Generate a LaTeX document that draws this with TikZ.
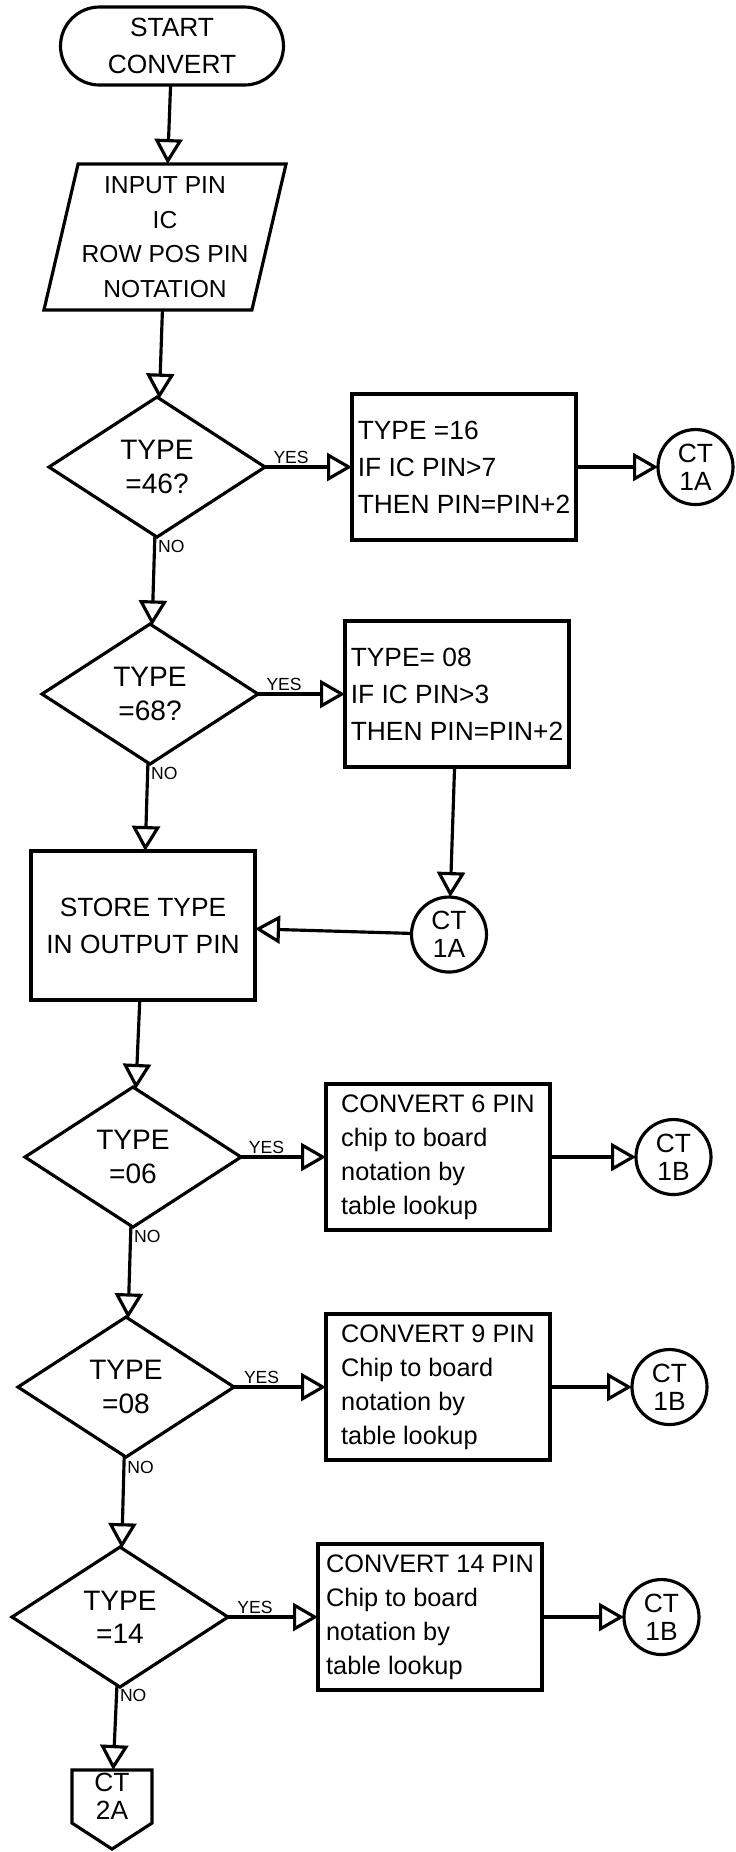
\documentclass[tikz,border=0pt]{standalone}
\usepackage{fontspec}
\setmainfont{Liberation Sans}
\usetikzlibrary{positioning,arrows.meta,shapes.geometric}

\begin{document}
\begin{tikzpicture}[
  node distance=8.7mm and 8.7mm,
  line width=0.9pt,
  every node/.style={font=\fontsize{7.5}{10.5}\selectfont, outer sep=0pt},
  termbox/.style={draw, rounded corners=3.9mm, minimum width=22.3mm,
                  minimum height=7.8mm, align=center, inner sep=1pt},
  iobox/.style={draw, trapezium, trapezium left angle=75,
                trapezium right angle=105, trapezium stretches=true,
                minimum width=22.6mm, minimum height=14.6mm, align=center,
                inner sep=1pt, font=\fontsize{7}{9.8}\selectfont},
  decbox/.style={draw, diamond, aspect=1.55, minimum width=21.6mm,
                 minimum height=14mm, inner sep=0pt, align=center,
                 font=\fontsize{8}{9.5}\selectfont},
  procbox/.style={draw, minimum width=22.4mm, minimum height=14.6mm,
                  align=left, inner sep=1pt},
  cvbox/.style={procbox, font=\fontsize{7.2}{9.7}\selectfont},
  conn/.style={draw, circle, minimum size=7.5mm, inner sep=0pt,
               align=center, font=\fontsize{7.5}{8}\selectfont},
  offpage/.style={minimum width=8mm, minimum height=5.3mm, inner sep=0pt,
                  align=center, font=\fontsize{7.5}{8}\selectfont},
  lbl/.style={font=\fontsize{5}{6}\selectfont, inner sep=1pt},
  arr/.style={-{Triangle[open, length=2.5mm, width=2.8mm]}, line width=0.9pt}]

\useasboundingbox (0,0) rectangle (73.5mm,-185.2mm);

%% Main column (drifts slightly left going down)
\node[termbox] (start) at (17.2mm,-4.6mm) {START\\CONVERT};
\node[iobox, below=7.9mm of start, xshift=-0.7mm] (input)
  {INPUT PIN\\IC\\ROW POS PIN\\NOTATION};
\node[decbox, below=of input, xshift=-0.8mm] (t46) {TYPE\\=46?};
\node[decbox, below=of t46, xshift=-0.7mm]   (t68) {TYPE\\=68?};
\node[procbox, below=of t68, xshift=-0.7mm, minimum height=14.9mm,
      align=center] (store) {STORE TYPE\\IN OUTPUT PIN};
\node[decbox, below=of store, xshift=-1mm]   (t06) {TYPE\\=06};
\node[decbox, below=9mm of t06, xshift=-0.7mm] (t08) {TYPE\\=08};
\node[decbox, below=9mm of t08, xshift=-0.6mm] (t14) {TYPE\\=14};
\node[offpage, below=8.3mm of t14, xshift=-0.8mm] (ct2a) {CT\\2A};
% off-page connector outline: box with a point at the bottom
\draw (ct2a.north west) -- (ct2a.north east) -- (ct2a.south east)
  -- ([yshift=-2.6mm]ct2a.south) -- (ct2a.south west) -- cycle;

%% Right column: the YES branches
\node[procbox, right=of t46] (pin16) {TYPE =16\\IF IC PIN>7\\THEN PIN=PIN+2};
\node[conn, right=8.2mm of pin16] (ct1a) {CT\\1A};
\node[procbox, right=of t68] (pin08) {TYPE= 08\\IF IC PIN>3\\THEN PIN=PIN+2};
\node[conn, below=13mm of pin08, xshift=-0.8mm] (ct1aback) {CT\\1A};
\node[cvbox, right=8.5mm of t06] (cv6)
  {CONVERT 6 PIN\\chip to board\\notation by\\table lookup};
\node[conn, right=8.6mm of cv6] (ct1b) {CT\\1B};
\node[cvbox, right=9.2mm of t08] (cv9)
  {CONVERT 9 PIN\\Chip to board\\notation by\\table lookup};
\node[conn, right=8.2mm of cv9] (ct1bb) {CT\\1B};
\node[cvbox, right=9mm of t14] (cv14)
  {CONVERT 14 PIN\\Chip to board\\notation by\\table lookup};
\node[conn, right=8.2mm of cv14] (ct1bc) {CT\\1B};

%% Arrows
\draw[arr] (start) -- (input);
\draw[arr] (input) -- (t46);
\draw[arr] (t46) -- node[lbl, above, pos=0.3] {YES} (pin16);
\draw[arr] (pin16) -- (ct1a);
\draw[arr] (t46) -- node[lbl, right, pos=0.12] {NO} (t68);
\draw[arr] (t68) -- node[lbl, above, pos=0.3] {YES} (pin08);
\draw[arr] (pin08) -- (ct1aback);
\draw[arr] (ct1aback) -- (store);
\draw[arr] (t68) -- node[lbl, right, pos=0.12] {NO} (store);
\draw[arr] (store) -- (t06);
\draw[arr] (t06) -- node[lbl, above, pos=0.3] {YES} (cv6);
\draw[arr] (cv6) -- (ct1b);
\draw[arr] (t06) -- node[lbl, right, pos=0.12] {NO} (t08);
\draw[arr] (t08) -- node[lbl, above, pos=0.3] {YES} (cv9);
\draw[arr] (cv9) -- (ct1bb);
\draw[arr] (t08) -- node[lbl, right, pos=0.12] {NO} (t14);
\draw[arr] (t14) -- node[lbl, above, pos=0.3] {YES} (cv14);
\draw[arr] (cv14) -- (ct1bc);
\draw[arr] (t14) -- node[lbl, right, pos=0.12] {NO} (ct2a);
\end{tikzpicture}
\end{document}
